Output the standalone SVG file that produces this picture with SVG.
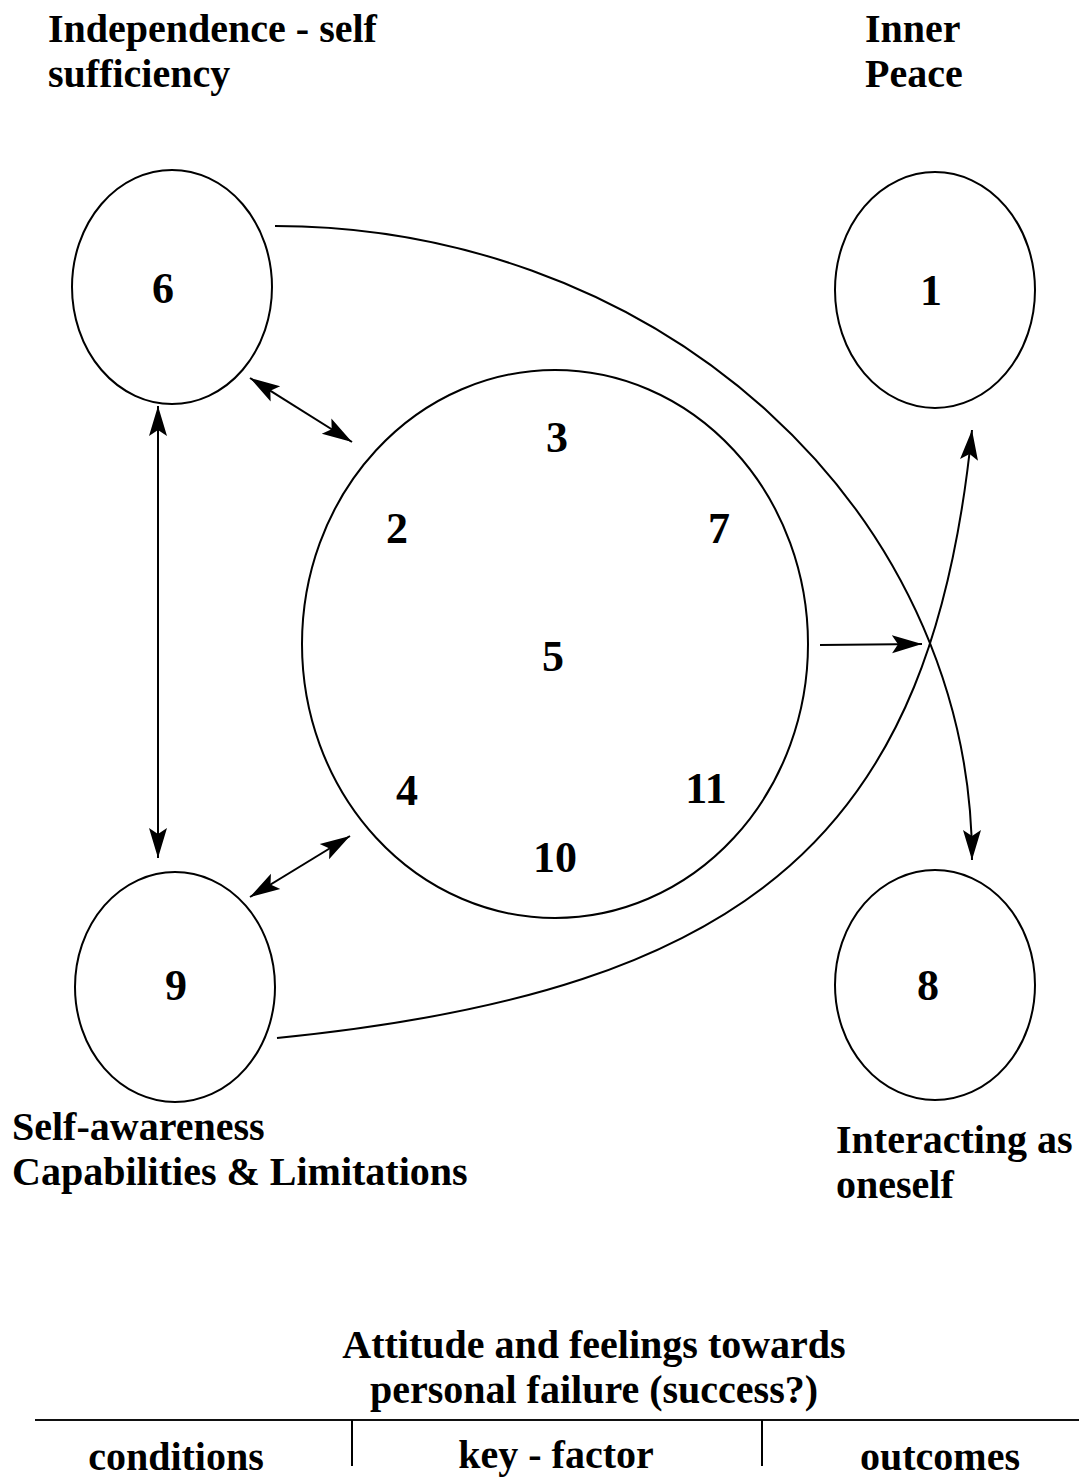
<svg xmlns="http://www.w3.org/2000/svg" width="1079" height="1481" viewBox="0 0 1079 1481">
<style>
.t{font-family:"Liberation Serif","Times New Roman",serif;font-weight:bold;fill:#000}
.lbl{font-size:40px}
.num{font-size:44px;text-anchor:middle}
.node{fill:#fff;stroke:#000;stroke-width:2}
.c{fill:none;stroke:#000;stroke-width:2}
</style>
<defs>
<marker id="ah" viewBox="-30 -10 32 20" refX="0" refY="0" markerWidth="32" markerHeight="20" markerUnits="userSpaceOnUse" orient="auto-start-reverse">
<path d="M0,0 L-30,-9 L-24,0 L-30,9 Z" fill="#000"/>
</marker>
</defs>
<rect width="1079" height="1481" fill="#fff"/>
<g id="node6"><ellipse class="node" cx="172" cy="287" rx="100" ry="117"/><text class="t num" x="163" y="303">6</text></g>
<g id="node1"><ellipse class="node" cx="935" cy="290" rx="100" ry="118"/><text class="t num" x="931" y="305">1</text></g>
<g id="node9"><ellipse class="node" cx="175" cy="987" rx="100" ry="115"/><text class="t num" x="176" y="1000">9</text></g>
<g id="node8"><ellipse class="node" cx="935" cy="985" rx="100" ry="115"/><text class="t num" x="928" y="1000">8</text></g>
<g id="center"><ellipse class="node" cx="555" cy="644" rx="253" ry="274"/>
<text class="t num" x="557" y="452">3</text>
<text class="t num" x="397" y="543">2</text>
<text class="t num" x="719" y="543">7</text>
<text class="t num" x="553" y="671">5</text>
<text class="t num" x="407" y="805">4</text>
<text class="t num" x="706" y="803">11</text>
<text class="t num" x="555" y="872">10</text>
</g>
<g id="connectors">
<line class="c" x1="250" y1="378" x2="352" y2="442" marker-start="url(#ah)" marker-end="url(#ah)"/>
<line class="c" x1="250" y1="897" x2="350" y2="836" marker-start="url(#ah)" marker-end="url(#ah)"/>
<line class="c" x1="158" y1="406" x2="158" y2="858" marker-start="url(#ah)" marker-end="url(#ah)"/>
<line class="c" x1="820" y1="645" x2="922" y2="644" marker-end="url(#ah)"/>
<path class="c" d="M275,226 A697,634 0 0 1 972,860" marker-end="url(#ah)"/>
<path class="c" d="M277,1038 C757,990 932,830 972,430" marker-end="url(#ah)"/>
</g>
<g id="labels">
<text class="t lbl" x="48" y="42">Independence - self</text>
<text class="t lbl" x="48" y="87">sufficiency</text>
<text class="t lbl" x="865" y="42">Inner</text>
<text class="t lbl" x="865" y="87">Peace</text>
<text class="t lbl" x="12" y="1140">Self-awareness</text>
<text class="t lbl" x="12" y="1185">Capabilities &amp; Limitations</text>
<text class="t lbl" x="836" y="1153">Interacting as</text>
<text class="t lbl" x="836" y="1198">oneself</text>
<text class="t lbl" x="594" y="1358" text-anchor="middle">Attitude and feelings towards</text>
<text class="t lbl" x="594" y="1403" text-anchor="middle">personal failure (success?)</text>
</g>
<g id="table">
<line x1="35" y1="1420" x2="1079" y2="1420" stroke="#111" stroke-width="2"/>
<line x1="352" y1="1420" x2="352" y2="1466" stroke="#000" stroke-width="2"/>
<line x1="762" y1="1420" x2="762" y2="1466" stroke="#000" stroke-width="2"/>
<text class="t lbl" x="176" y="1470" text-anchor="middle">conditions</text>
<text class="t lbl" x="556" y="1468" text-anchor="middle">key - factor</text>
<text class="t lbl" x="940" y="1470" text-anchor="middle">outcomes</text>
</g>
</svg>
